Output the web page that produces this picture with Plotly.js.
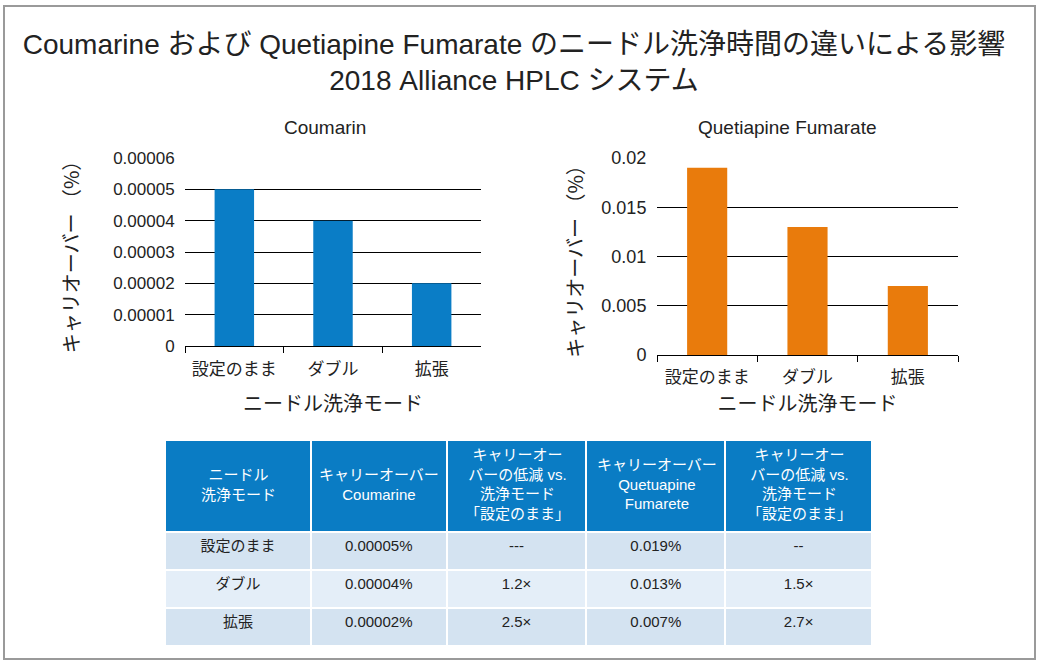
<!DOCTYPE html>
<html>
<head>
<meta charset="utf-8">
<script src="https://cdn.plot.ly/plotly-3.0.1.min.js"></script>
<style>html,body{margin:0;padding:0;background:#fff;}#chart{width:1041px;height:663px;}</style>
</head>
<body>
<div id="chart"></div>
<script>
const modes = ['設定のまま', 'ダブル', '拡張'];
const coumarinValues = [0.00005, 0.00004, 0.00002];
const quetiapineValues = [0.019, 0.013, 0.007];
const coumarinTickVals = [0, 0.00001, 0.00002, 0.00003, 0.00004, 0.00005, 0.00006];
const coumarinTickText = ['0', '0.00001', '0.00002', '0.00003', '0.00004', '0.00005', '0.00006'];
const quetiapineTickVals = [0, 0.005, 0.01, 0.015, 0.02];
const quetiapineTickText = ['0', '0.005', '0.01', '0.015', '0.02'];

const tableHeader = ['ニードル<br>洗浄モード', 'キャリーオーバー<br>Coumarine', 'キャリーオー<br>バーの低減 vs.<br>洗浄モード<br>「設定のまま」', 'キャリーオーバー<br>Quetuapine<br>Fumarete', 'キャリーオー<br>バーの低減 vs.<br>洗浄モード<br>「設定のまま」'];
const colMode = ['設定のまま', 'ダブル', '拡張'];
const colCoumarin = ['0.00005%', '0.00004%', '0.00002%'];
const colCoumarinReduction = ['---', '1.2×', '2.5×'];
const colQuetiapine = ['0.019%', '0.013%', '0.007%'];
const colQuetiapineReduction = ['--', '1.5×', '2.7×'];

const FONT = 'Liberation Sans, Arial, Noto Sans CJK JP, sans-serif';
const JFONT = 'Noto Sans CJK JP, Liberation Sans, sans-serif';
const W = 1041, H = 663;
const px = v => v / W;
const py = v => 1 - v / H;
const rowColors = ['#d4e3f1', '#e4eef8', '#d4e3f1'];

// table geometry (layout only)
const tableLeft = 165, tableRight = 873, tableTop = 440, tableBottom = 648;
const columnWidths = [146, 136, 140, 139, 147];
const headerHeight = 92;

const data = [
  {type: 'bar', x: modes, y: coumarinValues, xaxis: 'x', yaxis: 'y', marker: {color: '#0a7dc6'}, hoverinfo: 'x+y'},
  {type: 'bar', x: modes, y: quetiapineValues, xaxis: 'x2', yaxis: 'y2', marker: {color: '#e97b0c'}, hoverinfo: 'x+y'},
  {
    type: 'table',
    domain: {x: [px(tableLeft), px(tableRight)], y: [py(tableBottom), py(tableTop)]},
    columnwidth: columnWidths,
    header: {
      values: tableHeader.map(() => ''),
      fill: {color: '#0a7cc4'},
      line: {color: '#ffffff', width: 2},
      align: 'center',
      height: headerHeight,
      font: {family: FONT, size: 15, color: '#ffffff'}
    },
    cells: {
      values: [colMode, colCoumarin, colCoumarinReduction, colQuetiapine, colQuetiapineReduction],
      fill: {color: [rowColors]},
      line: {color: '#ffffff', width: 2},
      align: 'center',
      height: 38,
      font: {family: FONT, size: 15, color: '#222222'}
    }
  }
];

// header labels as centred annotations (multi-line centring)
const totalW = columnWidths.reduce((a, b) => a + b, 0);
const headerAnnotations = [];
let acc = 0;
tableHeader.forEach((txt, i) => {
  const cx = tableLeft + (acc + columnWidths[i] / 2) * (tableRight - tableLeft) / totalW;
  acc += columnWidths[i];
  headerAnnotations.push({
    text: txt, xref: 'paper', yref: 'paper', x: px(cx), y: py(484),
    xanchor: 'center', yanchor: 'middle', align: 'center', showarrow: false,
    font: {family: FONT, size: 15, color: '#ffffff'}
  });
});

const layout = {
  width: W, height: H,
  margin: {l: 0, r: 0, t: 0, b: 0},
  paper_bgcolor: '#ffffff', plot_bgcolor: '#ffffff',
  showlegend: false,
  bargap: 0.6,
  font: {family: FONT, color: '#222'},
  title: {
    text: 'Coumarine および Quetiapine Fumarate のニードル洗浄時間の違いによる影響<br>2018 Alliance HPLC システム',
    font: {family: FONT, size: 28, color: '#222'},
    x: px(514), xanchor: 'center', y: py(54), yanchor: 'middle'
  },
  xaxis: {
    domain: [px(185), px(481)], anchor: 'y', type: 'category',
    showline: true, linecolor: '#000', linewidth: 1,
    ticks: 'outside', tickson: 'boundaries', ticklen: 6, tickcolor: '#000',
    ticklabelstandoff: 8, tickangle: 0,
    tickfont: {family: JFONT, size: 17, color: '#222'},
    showgrid: false, fixedrange: true,
    title: {text: 'ニードル洗浄モード', font: {family: JFONT, size: 20, color: '#222'}, standoff: 17}
  },
  yaxis: {
    domain: [py(346), py(158)], anchor: 'x',
    range: [0, 0.00006], tickvals: coumarinTickVals, ticktext: coumarinTickText,
    tickfont: {family: FONT, size: 17, color: '#222'},
    showgrid: true, gridcolor: '#000', gridwidth: 1, zeroline: false, showline: false,
    ticks: 'outside', ticklen: 6, tickcolor: 'rgba(0,0,0,0)', fixedrange: true,
    title: {text: 'キャリオーバー （%）', font: {family: JFONT, size: 20, color: '#222'}, standoff: 28}
  },
  xaxis2: {
    domain: [px(657), px(958)], anchor: 'y2', type: 'category',
    showline: true, linecolor: '#000', linewidth: 1,
    ticks: 'outside', tickson: 'boundaries', ticklen: 6, tickcolor: '#000',
    ticklabelstandoff: 7, tickangle: 0,
    tickfont: {family: JFONT, size: 17, color: '#222'},
    showgrid: false, fixedrange: true,
    title: {text: 'ニードル洗浄モード', font: {family: JFONT, size: 20, color: '#222'}, standoff: 5}
  },
  yaxis2: {
    domain: [py(355), py(158)], anchor: 'x2',
    range: [0, 0.02], tickvals: quetiapineTickVals, ticktext: quetiapineTickText,
    tickfont: {family: FONT, size: 18, color: '#222'},
    showgrid: true, gridcolor: '#000', gridwidth: 1, zeroline: false, showline: false,
    ticks: 'outside', ticklen: 6, tickcolor: 'rgba(0,0,0,0)', fixedrange: true,
    title: {text: 'キャリオーバー （%）', font: {family: JFONT, size: 20, color: '#222'}, standoff: 12}
  },
  annotations: [
    {text: 'Coumarin', xref: 'paper', yref: 'paper', x: px(325), y: py(128), xanchor: 'center', yanchor: 'middle', showarrow: false, font: {family: FONT, size: 19, color: '#222'}},
    {text: 'Quetiapine Fumarate', xref: 'paper', yref: 'paper', x: px(787), y: py(128), xanchor: 'center', yanchor: 'middle', showarrow: false, font: {family: FONT, size: 19, color: '#222'}}
  ].concat(headerAnnotations),
  shapes: [
    {type: 'rect', xref: 'paper', yref: 'paper', x0: px(4), x1: px(1035), y0: py(659), y1: py(6), line: {color: '#9a9a9a', width: 2}, fillcolor: 'rgba(0,0,0,0)'}
  ]
};

Plotly.newPlot('chart', data, layout, {displayModeBar: false});
</script>
</body>
</html>
